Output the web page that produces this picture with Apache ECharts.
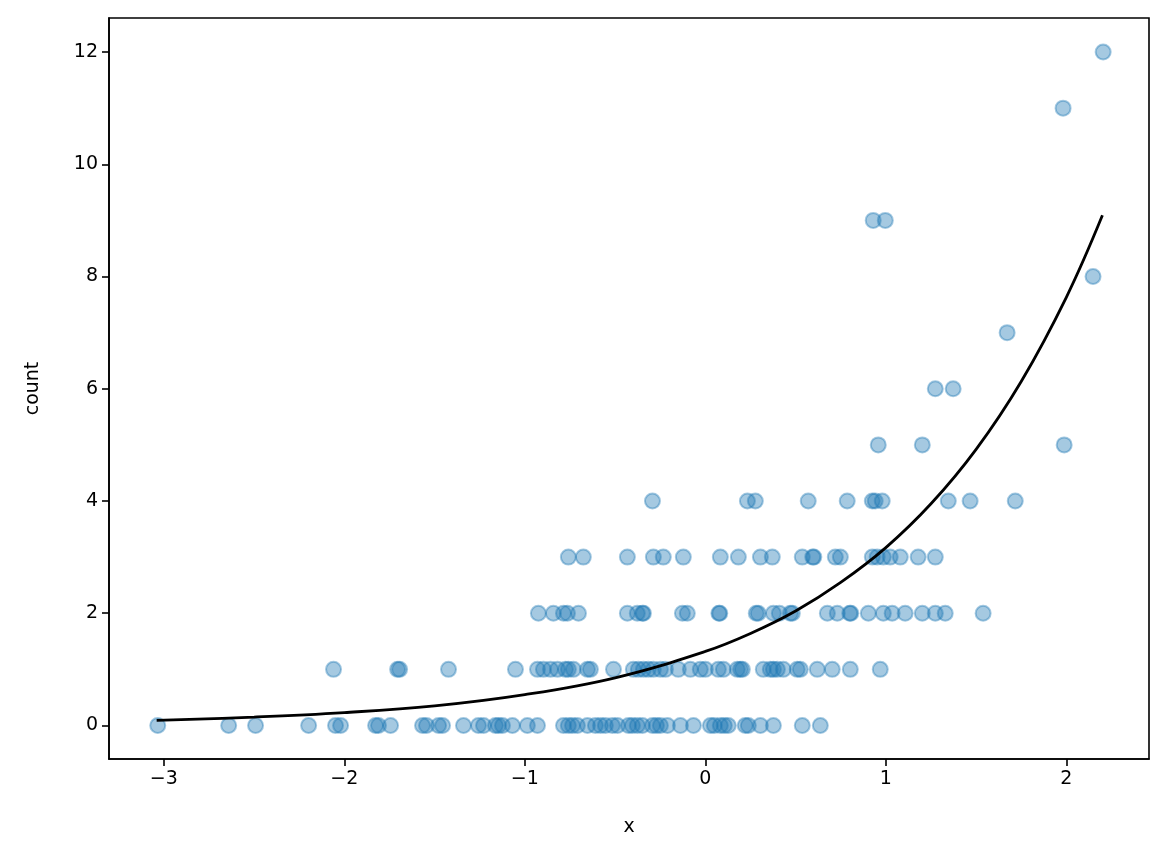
<!DOCTYPE html>
<html>
<head>
<meta charset="utf-8">
<script src="https://cdn.jsdelivr.net/npm/echarts@6/dist/echarts.min.js"></script>
<style>
  html, body { margin: 0; padding: 0; background: #fff; }
  #chart { width: 1170px; height: 860px; }
</style>
</head>
<body>
<div id="chart"></div>
<script>
// x positions of the observed points, grouped by their count
var xCount0 = [-3.034, -2.641, -2.492, -2.198, -2.049, -2.021, -1.827, -1.811, -1.744, -1.567,
  -1.545, -1.478, -1.456, -1.340, -1.257, -1.229, -1.163, -1.146, -1.124, -1.069, -0.986,
  -0.930, -0.786, -0.759, -0.736, -0.709, -0.653, -0.609, -0.581, -0.554, -0.515, -0.487,
  -0.426, -0.404, -0.377, -0.349, -0.293, -0.271, -0.249, -0.210, -0.138, -0.066, 0.028,
  0.050, 0.083, 0.105, 0.127, 0.221, 0.238, 0.305, 0.377, 0.537, 0.637];
var xCount1 = [-2.060, -1.705, -1.694, -1.423, -1.052, -0.930, -0.897, -0.858, -0.819, -0.775,
  -0.759, -0.731, -0.653, -0.637, -0.509, -0.399, -0.371, -0.343, -0.316, -0.288, -0.249,
  -0.221, -0.150, -0.083, -0.028, 0.000, 0.072, 0.100, 0.177, 0.194, 0.205, 0.321, 0.360,
  0.377, 0.399, 0.432, 0.509, 0.526, 0.620, 0.703, 0.803, 0.969];
var xCount2 = [-0.925, -0.842, -0.786, -0.764, -0.703, -0.432, -0.377, -0.349, -0.343, -0.127,
  -0.100, 0.075, 0.080, 0.282, 0.293, 0.377, 0.410, 0.471, 0.482, 0.676, 0.731, 0.800,
  0.806, 0.903, 0.986, 1.035, 1.107, 1.202, 1.274, 1.329, 1.539];
var xCount3 = [-0.759, -0.676, -0.432, -0.288, -0.233, -0.122, 0.083, 0.183, 0.305, 0.371,
  0.537, 0.595, 0.601, 0.720, 0.748, 0.925, 0.952, 0.986, 1.024, 1.080, 1.179, 1.274];
var xCount4 = [-0.293, 0.233, 0.277, 0.570, 0.786, 0.925, 0.941, 0.980, 1.346, 1.467, 1.717];
var xCount5 = [0.958, 1.202, 1.988];
var xCount6 = [1.274, 1.373];
var xCount7 = [1.672];
var xCount8 = [2.148];
var xCount9 = [0.930, 0.997];
var xCount11 = [1.982];
var xCount12 = [2.204];

// fitted curve
var curveX = [-3.04, -2.5, -2.0, -1.5, -1.0, -0.5, 0.0, 0.25, 0.5, 0.75, 1.0, 1.25, 1.5, 1.75, 2.0, 2.2];
var curveY = [0.09, 0.15, 0.23, 0.35, 0.55, 0.85, 1.32, 1.64, 2.04, 2.55, 3.17, 3.95, 4.92, 6.13, 7.63, 9.09];

var xTicks = [-3, -2, -1, 0, 1, 2];
var yTicks = [0, 2, 4, 6, 8, 10, 12];

var groups = [
  [0, xCount0], [1, xCount1], [2, xCount2], [3, xCount3], [4, xCount4], [5, xCount5],
  [6, xCount6], [7, xCount7], [8, xCount8], [9, xCount9], [11, xCount11], [12, xCount12]
];
var points = [];
groups.forEach(function (g) {
  g[1].forEach(function (x) { points.push([x, g[0]]); });
});
var curve = curveX.map(function (x, i) { return [x, curveY[i]]; });

function minus(v) { return String(v).replace('-', '\u2212'); }

var font = 'DejaVu Sans';
var chart = echarts.init(document.getElementById('chart'));
chart.setOption({
  animation: false,
  backgroundColor: '#fff',
  textStyle: { fontFamily: font },
  grid: {
    left: 109, right: 21, top: 18, bottom: 101,
    show: true, borderColor: '#000', borderWidth: 1.6, backgroundColor: 'transparent'
  },
  xAxis: {
    type: 'value',
    min: -3.304, max: 2.458,
    name: 'x', nameLocation: 'middle', nameGap: 59,
    nameTextStyle: { color: '#000', fontSize: 19, fontFamily: font },
    splitLine: { show: false },
    axisLine: { show: true, onZero: false, lineStyle: { color: '#000', width: 1.6 } },
    axisTick: { show: true, customValues: xTicks, length: 7, lineStyle: { color: '#000', width: 1.6 } },
    axisLabel: {
      customValues: xTicks, margin: 11, color: '#000', fontSize: 19, fontFamily: font,
      formatter: minus
    }
  },
  yAxis: {
    type: 'value',
    min: -0.597, max: 12.606,
    name: 'count', nameLocation: 'middle', nameGap: 66, nameRotate: 90,
    nameTextStyle: { color: '#000', fontSize: 19, fontFamily: font },
    splitLine: { show: false },
    axisLine: { show: true, onZero: false, lineStyle: { color: '#000', width: 1.6 } },
    axisTick: { show: true, customValues: yTicks, length: 7, lineStyle: { color: '#000', width: 1.6 } },
    axisLabel: {
      customValues: yTicks, margin: 11, color: '#000', fontSize: 19, fontFamily: font,
      formatter: minus
    }
  },
  series: [
    {
      type: 'scatter',
      data: points,
      symbol: 'circle',
      symbolSize: 15,
      itemStyle: { color: '#1f77b4', borderColor: '#1f77b4', borderWidth: 2, opacity: 0.4 },
      emphasis: { disabled: true }
    },
    {
      type: 'line',
      data: curve,
      smooth: 0.4,
      showSymbol: false,
      lineStyle: { color: '#000', width: 2.8 },
      z: 3
    }
  ]
});
</script>
</body>
</html>
